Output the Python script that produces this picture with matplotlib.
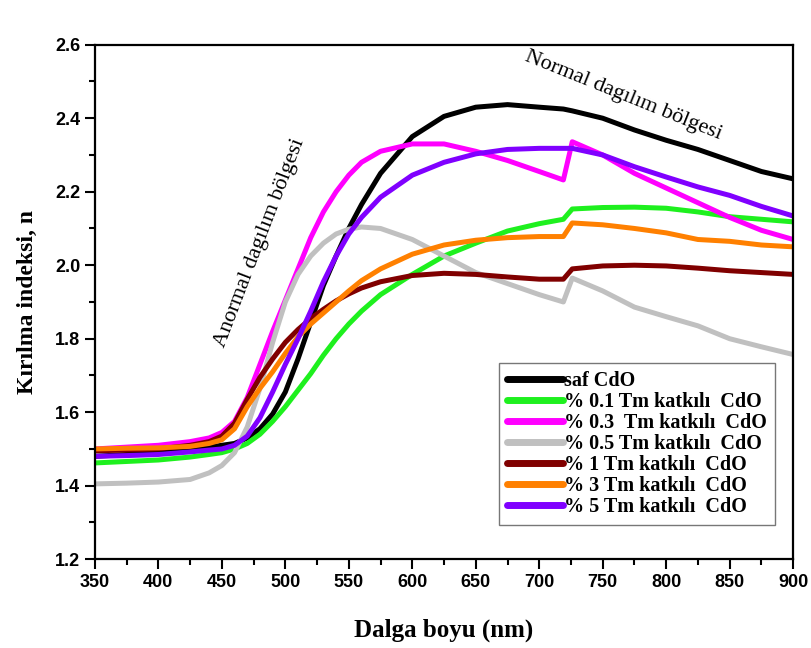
import matplotlib
matplotlib.use("Agg")
import matplotlib.pyplot as plt
from matplotlib.ticker import MultipleLocator

# wavelength grid (nm)
wavelength = [350, 375, 400, 425, 440, 450, 460, 470, 480, 490, 500, 510, 520,
              530, 540, 550, 560, 575, 600, 625, 650, 675, 700, 719, 726, 750,
              775, 800, 825, 850, 875, 900]

n_saf = [1.48, 1.485, 1.49, 1.50, 1.505, 1.51, 1.515, 1.53, 1.555, 1.595,
         1.655, 1.745, 1.845, 1.945, 2.025, 2.10, 2.165, 2.25, 2.35, 2.405,
         2.43, 2.437, 2.43, 2.425, 2.42, 2.40, 2.368, 2.34, 2.315, 2.285,
         2.255, 2.235]
n_01 = [1.462, 1.466, 1.47, 1.478, 1.485, 1.49, 1.50, 1.515, 1.54, 1.575,
        1.615, 1.66, 1.705, 1.755, 1.80, 1.84, 1.875, 1.92, 1.975, 2.025,
        2.06, 2.093, 2.113, 2.125, 2.153, 2.157, 2.158, 2.155, 2.145, 2.132,
        2.125, 2.118]
n_03 = [1.50, 1.505, 1.51, 1.52, 1.53, 1.545, 1.575, 1.64, 1.73, 1.82, 1.905,
        1.99, 2.075, 2.145, 2.20, 2.245, 2.28, 2.31, 2.33, 2.33, 2.31, 2.285,
        2.255, 2.232, 2.336, 2.30, 2.25, 2.21, 2.17, 2.13, 2.095, 2.07]
n_05 = [1.405, 1.407, 1.41, 1.417, 1.435, 1.455, 1.49, 1.56, 1.665, 1.79,
        1.90, 1.975, 2.025, 2.06, 2.085, 2.098, 2.104, 2.100, 2.07, 2.025,
        1.98, 1.95, 1.92, 1.90, 1.965, 1.93, 1.886, 1.86, 1.835, 1.80, 1.778,
        1.757]
n_1 = [1.495, 1.497, 1.50, 1.51, 1.52, 1.535, 1.57, 1.635, 1.695, 1.745,
       1.79, 1.825, 1.855, 1.88, 1.903, 1.922, 1.938, 1.955, 1.972, 1.978,
       1.975, 1.968, 1.962, 1.962, 1.99, 1.998, 2.0, 1.998, 1.992, 1.985,
       1.98, 1.975]
n_3 = [1.50, 1.502, 1.503, 1.507, 1.515, 1.525, 1.555, 1.615, 1.665, 1.71,
       1.76, 1.805, 1.84, 1.87, 1.90, 1.93, 1.958, 1.99, 2.03, 2.055, 2.068,
       2.075, 2.078, 2.078, 2.115, 2.11, 2.10, 2.088, 2.07, 2.065, 2.055,
       2.05]
n_5 = [1.48, 1.482, 1.485, 1.492, 1.497, 1.50, 1.51, 1.535, 1.585, 1.655,
       1.73, 1.80, 1.875, 1.955, 2.025, 2.085, 2.13, 2.185, 2.245, 2.28,
       2.303, 2.315, 2.318, 2.318, 2.318, 2.30, 2.268, 2.24, 2.213, 2.19,
       2.16, 2.134]

series = [
    ("saf CdO", n_saf, "#000000"),
    ("% 0.1 Tm katkılı  CdO", n_01, "#1ef01e"),
    ("% 0.3  Tm katkılı  CdO", n_03, "#ff00ff"),
    ("% 0.5 Tm katkılı  CdO", n_05, "#c0c0c0"),
    ("% 1 Tm katkılı  CdO", n_1, "#800000"),
    ("% 3 Tm katkılı  CdO", n_3, "#ff8000"),
    ("% 5 Tm katkılı  CdO", n_5, "#8000ff"),
]

serif = "Liberation Serif"
sans = "Liberation Sans"

fig = plt.figure(figsize=(8.11, 6.48), dpi=100)
ax = fig.add_axes([0.117, 0.137, 0.861, 0.794])

for label, values, color in series:
    ax.plot(wavelength, values, color=color, lw=3.6, label=label,
            solid_capstyle="round", solid_joinstyle="round")

ax.set_xlim(350, 900)
ax.set_ylim(1.2, 2.6)
ax.xaxis.set_major_locator(MultipleLocator(50))
ax.xaxis.set_minor_locator(MultipleLocator(25))
ax.yaxis.set_major_locator(MultipleLocator(0.2))
ax.yaxis.set_minor_locator(MultipleLocator(0.1))
ax.yaxis.set_major_formatter(plt.FormatStrFormatter("%.1f"))
ax.tick_params(which="both", direction="out", top=False, right=False,
               width=1.5)
ax.tick_params(which="major", length=7)
ax.tick_params(which="minor", length=4)
for lab in ax.get_xticklabels() + ax.get_yticklabels():
    lab.set_fontfamily(sans)
    lab.set_fontweight("bold")
    lab.set_fontsize(13)
for sp in ax.spines.values():
    sp.set_linewidth(1.6)

ax.set_xlabel("Dalga boyu (nm)", fontfamily=serif, fontweight="bold",
              fontsize=18, labelpad=20)
ax.set_ylabel("Kırılma indeksi, n", fontfamily=serif, fontweight="bold",
              fontsize=17, labelpad=12)

ax.text(766, 2.462, "Normal dagılım bölgesi", fontfamily=serif, fontsize=16,
        rotation=-22, ha="center", va="center")
ax.text(480, 2.06, "Anormal dagılım bölgesi", fontfamily=serif, fontsize=16,
        rotation=69, ha="center", va="center")

leg = ax.legend(loc="lower right", bbox_to_anchor=(0.974, 0.066),
                prop={"family": serif, "weight": "bold", "size": 14.5},
                frameon=True, fancybox=False, edgecolor="#555555",
                handlelength=2.8, handletextpad=0.05, labelspacing=0.05,
                borderpad=0.4, borderaxespad=0.0)
leg.get_frame().set_linewidth(1.0)
for line in leg.get_lines():
    line.set_linewidth(5)

fig.savefig("out.png", dpi=100)
